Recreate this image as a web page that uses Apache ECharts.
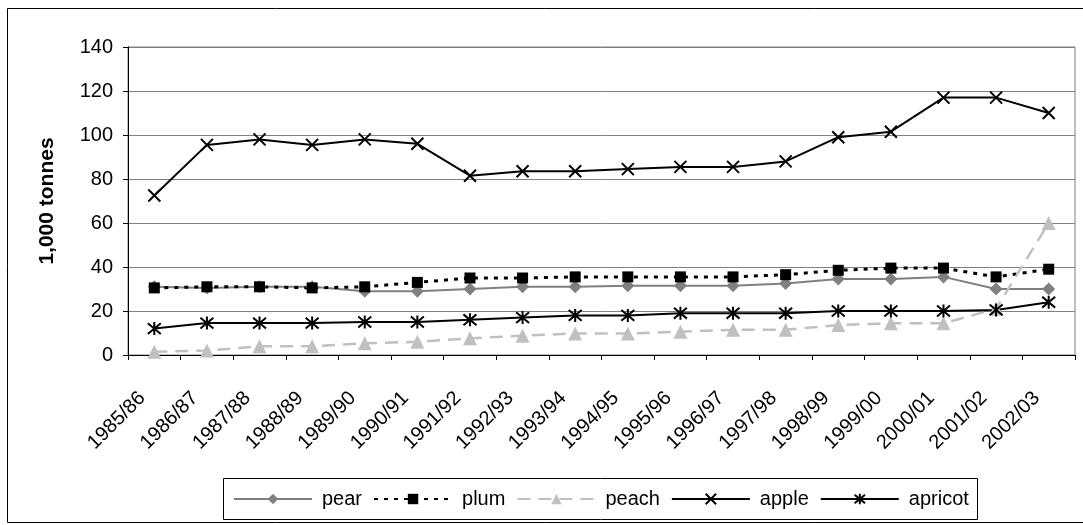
<!DOCTYPE html>
<html>
<head>
<meta charset="utf-8">
<script src="https://cdn.jsdelivr.net/npm/echarts@6/dist/echarts.min.js"></script>
<style>
html,body{margin:0;padding:0;background:#fff;}
#chart{width:1083px;height:525px;}
</style>
</head>
<body>
<div id="chart"></div>
<script>
var categories = ['1985/86','1986/87','1987/88','1988/89','1989/90','1990/91','1991/92','1992/93','1993/94','1994/95','1995/96','1996/97','1997/98','1998/99','1999/00','2000/01','2001/02','2002/03'];
var pear    = [31, 30.5, 31, 31, 29, 29, 30, 31, 31, 31.5, 31.5, 31.5, 32.5, 34.5, 34.5, 35.5, 30, 30];
var plum    = [30.5, 31, 31, 30.5, 31, 33, 35, 35, 35.5, 35.5, 35.5, 35.5, 36.5, 38.5, 39.5, 39.5, 35.5, 39];
var peach   = [1.5, 2, 4, 4, 5.3, 6, 7.6, 8.8, 9.8, 9.8, 10.6, 11.5, 11.5, 13.6, 14.4, 14.4, 21, 60];
var apple   = [72.5, 95.5, 98, 95.5, 98, 96, 81.5, 83.5, 83.5, 84.5, 85.5, 85.5, 88, 99, 101.5, 117, 117, 110];
var apricot = [12, 14.5, 14.5, 14.5, 15, 15, 16, 17, 18, 18, 19, 19, 19, 20, 20, 20, 20.5, 24];
var yTicks  = {min: 0, max: 140, step: 20};
var yTitle  = '1,000 tonnes';

var FONT = 'Liberation Sans, Arial, sans-serif';
var chart = echarts.init(document.getElementById('chart'), null, {renderer: 'canvas'});

function mk(name, data, color, lineType, width, symbol, size, fill, border) {
  return {
    name: name, type: 'line', data: data,
    symbol: symbol, symbolSize: size,
    lineStyle: {color: color, width: width, type: lineType},
    itemStyle: {color: fill, borderColor: border || fill, borderWidth: border ? 2 : 0},
    emphasis: {disabled: true},
    animation: false
  };
}

var xPath = 'path://M0 0L10 10M10 0L0 10';
var starPath = 'path://M0 0L10 10M10 0L0 10M5 -1L5 11';

chart.setOption({
  animation: false,
  textStyle: {fontFamily: FONT},
  grid: {left: 128, right: 8, top: 47, bottom: 170, show: true, borderColor: '#808080', borderWidth: 1},
  xAxis: {
    type: 'category', data: categories, boundaryGap: true,
    axisLine: {lineStyle: {color: '#000', width: 1}},
    axisTick: {show: true, length: 5, lineStyle: {color: '#000'}},
    axisLabel: {rotate: 45, interval: 0, fontSize: 20, color: '#000', margin: 28, padding: [0, 17, 0, 0], fontFamily: FONT},
    splitLine: {show: false}
  },
  yAxis: {
    type: 'value', min: yTicks.min, max: yTicks.max, interval: yTicks.step,
    name: yTitle, nameLocation: 'middle', nameGap: 70,
    nameTextStyle: {fontSize: 21, fontWeight: 'bold', color: '#000', fontFamily: FONT},
    axisLine: {show: true, lineStyle: {color: '#000', width: 1}},
    axisTick: {show: true, length: 5, lineStyle: {color: '#000'}},
    axisLabel: {fontSize: 20, color: '#000', margin: 15, fontFamily: FONT},
    splitLine: {show: true, lineStyle: {color: '#808080', width: 1}}
  },
  legend: {
    left: 228, top: 478, padding: [11, 5],
    itemWidth: 78, itemHeight: 13, itemGap: 11,
    textStyle: {fontSize: 20, color: '#000', fontFamily: FONT, padding: [0, 0, 0, 5]},
    data: ['pear', 'plum', 'peach', 'apple', 'apricot']
  },
  graphic: [
    {type: 'rect', shape: {x: 7.5, y: 8.5, width: 1200, height: 514}, style: {fill: 'none', stroke: '#000', lineWidth: 1}, silent: true, z: -1},
    {type: 'rect', shape: {x: 223.5, y: 478.5, width: 754, height: 41}, style: {fill: 'none', stroke: '#000', lineWidth: 1}, silent: true, z: -1}
  ],
  series: [
    mk('pear', pear, '#808080', 'solid', 2, 'diamond', 13, '#808080'),
    mk('plum', plum, '#000', [4, 6], 3, 'rect', 11, '#000'),
    mk('peach', peach, '#C0C0C0', [13, 8], 2.5, 'triangle', 14, '#C0C0C0'),
    mk('apple', apple, '#000', 'solid', 2, xPath, 12, '#000', '#000'),
    mk('apricot', apricot, '#000', 'solid', 2, starPath, 13, '#000', '#000')
  ]
});
</script>
</body>
</html>
